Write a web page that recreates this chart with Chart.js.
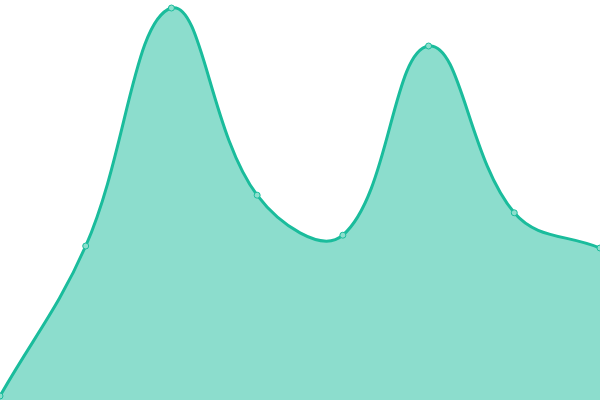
<!DOCTYPE html>
<html>
<head>
<meta charset="utf-8">
<script src="https://cdn.jsdelivr.net/npm/chart.js@4"></script>
<style>
  html, body { margin: 0; padding: 0; background: #fff; }
  #wrap { width: 600px; height: 400px; }
</style>
</head>
<body>
<div id="wrap"><canvas id="myChart"></canvas></div>
<script>
var labels = ["1", "2", "3", "4", "5", "6", "7", "8"];
var values = [1, 38.5, 98, 51.2, 41.2, 88.5, 46.8, 38];
var yMin = 0;
var yMax = 100;

const data = {
  labels: labels,
  datasets: [
    {
      data: values,
      fill: true,
      borderColor: "#1abc9c",
      backgroundColor: "rgba(26, 188, 156, 0.5)",
      borderWidth: 3,
      tension: 0.4,
      pointRadius: 3,
      pointBorderWidth: 1,
      pointBorderColor: "#1abc9c",
      pointBackgroundColor: "#8cdfcd",
    },
  ],
};

const config = {
  type: "line",
  data: data,
  options: {
    responsive: true,
    maintainAspectRatio: false,
    animation: false,
    layout: { padding: 0, autoPadding: false },
    scales: {
      x: { display: false },
      y: { display: false, min: yMin, max: yMax },
    },
    plugins: {
      legend: { display: false },
      tooltip: { enabled: false },
    },
  },
};

const myChart = new Chart(document.getElementById("myChart"), config);
</script>
</body>
</html>
